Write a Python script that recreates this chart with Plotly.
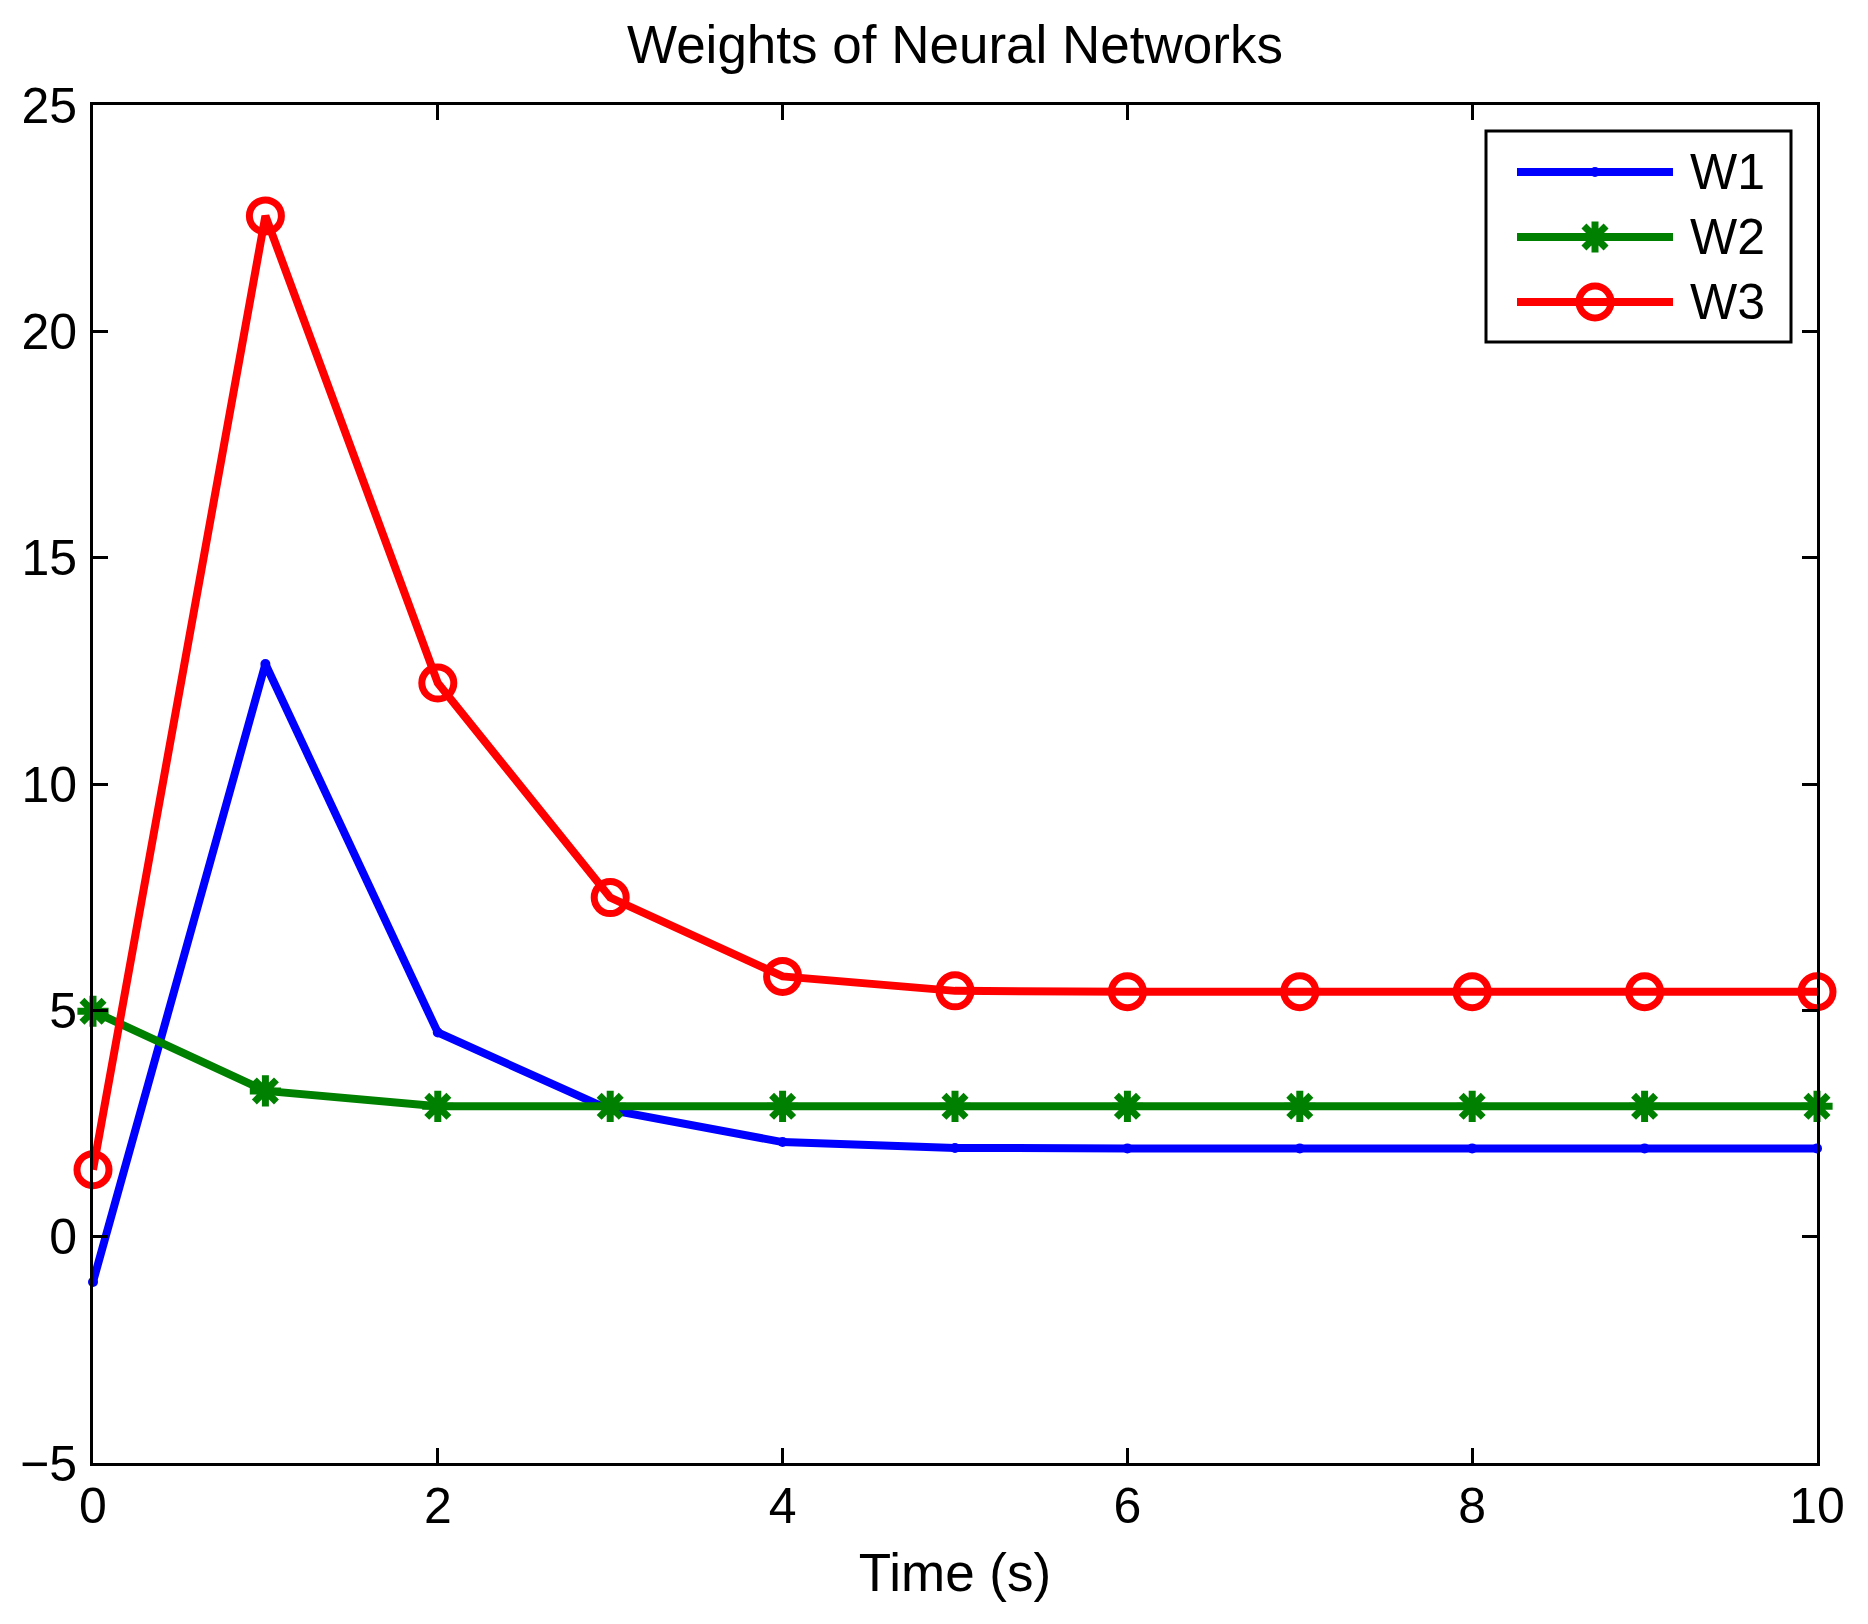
import plotly.graph_objects as go

time_s = [0, 1, 2, 3, 4, 5, 6, 7, 8, 9, 10]
w1 = [-1.0, 12.65, 4.51, 2.80, 2.09, 1.96, 1.95, 1.95, 1.95, 1.95, 1.95]
w2 = [4.98, 3.22, 2.88, 2.88, 2.88, 2.88, 2.88, 2.88, 2.88, 2.88, 2.88]
w3 = [1.48, 22.55, 12.23, 7.49, 5.75, 5.43, 5.41, 5.41, 5.41, 5.41, 5.41]
series_names = ["W1", "W2", "W3"]
x_ticks = [0, 2, 4, 6, 8, 10]
y_ticks = [-5, 0, 5, 10, 15, 20, 25]

FONT = "Liberation Sans, Arial, Helvetica, sans-serif"
BLUE, GREEN, RED = "#0000FF", "#008000", "#FF0000"

OFF = 8  # default body margin of the page
W, H = 1868 - 2 * OFF, 1624 - 2 * OFF
# plot area in page pixels
L, R, T, B = 93, 1817, 105, 1463

fig = go.Figure()

styles = [
    dict(color=BLUE, marker=dict(symbol="circle", size=10, color=BLUE, line=dict(width=0))),
    dict(color=GREEN, marker=dict(symbol="asterisk-open", size=26, color=GREEN, line=dict(width=7, color=GREEN))),
    dict(color=RED, marker=dict(symbol="circle-open", size=32, color=RED, line=dict(width=7, color=RED))),
]
LW = 8

for name, ys, st in zip(series_names, [w1, w2, w3], styles):
    fig.add_trace(go.Scatter(
        x=time_s, y=ys, name=name, mode="lines+markers",
        line=dict(color=st["color"], width=LW),
        marker=st["marker"], cliponaxis=False, showlegend=False,
    ))

# custom legend on an overlay pixel axis (page-pixel coordinates)
leg_x0, leg_x1, leg_y0, leg_y1 = 1486, 1791, 131, 342
rows_y = [172, 237, 302]
line_x = [1517, 1673]
for name, st, ry in zip(series_names, styles, rows_y):
    fig.add_trace(go.Scatter(
        x=line_x, y=[ry, ry], mode="lines", line=dict(color=st["color"], width=LW),
        xaxis="x2", yaxis="y2", showlegend=False, hoverinfo="skip", cliponaxis=False,
    ))
    fig.add_trace(go.Scatter(
        x=[(line_x[0] + line_x[1]) / 2], y=[ry], mode="markers", marker=st["marker"],
        xaxis="x2", yaxis="y2", showlegend=False, hoverinfo="skip", cliponaxis=False,
    ))
    fig.add_annotation(x=1688, y=ry, xref="x2", yref="y2", text=name, showarrow=False,
                       xanchor="left", yanchor="middle", font=dict(family=FONT, size=50, color="black"))

fig.add_shape(type="rect", x0=leg_x0, x1=leg_x1, y0=leg_y0, y1=leg_y1, xref="x2", yref="y2",
              line=dict(color="black", width=3), fillcolor="white", layer="below")

axis_common = dict(
    showline=True, linecolor="black", linewidth=3, mirror="ticks",
    ticks="inside", ticklen=15, tickwidth=3, tickcolor="black",
    showgrid=False, zeroline=False,
    tickfont=dict(family=FONT, size=50, color="black"),
)

fig.update_layout(
    width=W, height=H,
    margin=dict(l=L - OFF, r=W - (R - OFF), t=T - OFF, b=H - (B - OFF), pad=0),
    paper_bgcolor="white", plot_bgcolor="white",
    title=dict(text="Weights of Neural Networks", x=((L + R) / 2 - OFF) / W, xanchor="center",
               y=1 - (44 - OFF) / H, yanchor="middle", font=dict(family=FONT, size=53, color="black")),
    xaxis=dict(range=[0, 10], tickvals=x_ticks, ticktext=[str(v) for v in x_ticks],
               title=dict(text="Time (s)", font=dict(family=FONT, size=53, color="black"), standoff=21),
               ticklabelstandoff=-3, **axis_common),
    yaxis=dict(range=[-5, 25], tickvals=y_ticks, ticktext=[str(v).replace("-", "\u2212") for v in y_ticks],
               ticklabelstandoff=3, **axis_common),
    xaxis2=dict(range=[L, R], overlaying="x", anchor="y2", visible=False, domain=[0, 1]),
    yaxis2=dict(range=[B, T], overlaying="y", anchor="x2", visible=False, domain=[0, 1]),
    showlegend=False,
)

fig.write_html("out.html")
